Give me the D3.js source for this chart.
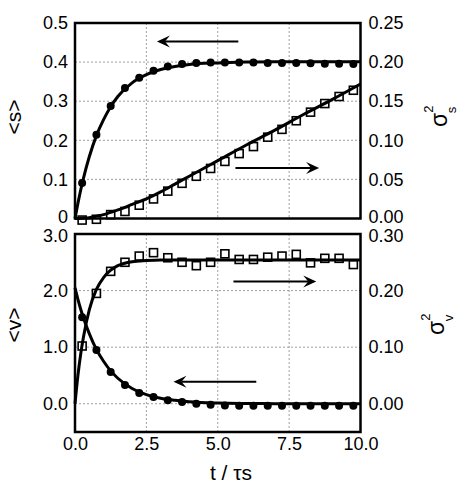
<!DOCTYPE html>
<html><head><meta charset="utf-8">
<script src="https://cdn.jsdelivr.net/npm/d3@7"></script>
<style>
html,body{margin:0;padding:0;background:#fff;}
svg{display:block;font-family:"Liberation Sans",Arial,Helvetica,sans-serif;}
</style></head>
<body><svg id="c" width="464" height="488"></svg>
<script>
// ---- data ----
const tData = [0.25,0.75,1.25,1.75,2.25,2.75,3.25,3.75,4.25,4.75,5.25,5.75,6.25,6.75,7.25,7.75,8.25,8.75,9.25,9.75];
const sMean = [0.091,0.214,0.288,0.334,0.360,0.378,0.389,0.395,0.398,0.399,0.399,0.399,0.399,0.398,0.398,0.398,0.397,0.396,0.396,0.395];
const sVar  = [-0.002,-0.001,0.005,0.009,0.017,0.025,0.035,0.045,0.054,0.064,0.073,0.083,0.092,0.104,0.114,0.125,0.136,0.147,0.156,0.164];
const vMean = [1.53,0.95,0.56,0.33,0.19,0.12,0.06,0.03,0.0,-0.02,-0.03,-0.035,-0.035,-0.035,-0.035,-0.035,-0.035,-0.035,-0.035,-0.035];
const vVar  = [0.102,0.195,0.234,0.250,0.261,0.267,0.258,0.250,0.244,0.250,0.265,0.255,0.255,0.259,0.261,0.264,0.249,0.257,0.257,0.246];

const tFit    = [0,0.1,0.2,0.3,0.5,0.75,1,1.25,1.5,2,2.5,3,3.5,4,5,6,7,8,9,10];
const sMeanFit= [0,0.038,0.073,0.104,0.158,0.212,0.253,0.286,0.312,0.347,0.368,0.381,0.389,0.394,0.398,0.400,0.401,0.401,0.401,0.401];
const sVarFit = [0,0,0.0002,0.0004,0.001,0.003,0.005,0.008,0.011,0.018,0.025,0.034,0.044,0.054,0.074,0.094,0.113,0.133,0.152,0.172];
const vMeanFit= [2.05,1.85,1.67,1.51,1.24,0.96,0.75,0.58,0.45,0.27,0.16,0.095,0.06,0.035,0.012,0.004,0.001,0,0,0];
const vVarFit = [0,0.049,0.088,0.119,0.166,0.202,0.223,0.236,0.244,0.251,0.253,0.254,0.254,0.254,0.254,0.254,0.254,0.254,0.254,0.254];

const xTicks = [0,2.5,5,7.5,10];
const xTickLabels = ["0.0","2.5","5.0","7.5","10.0"];
const sTicks = [0,0.1,0.2,0.3,0.4,0.5];
const sTickLabels = ["0","0.1","0.2","0.3","0.4","0.5"];
const sVarTicks = [0,0.05,0.10,0.15,0.20,0.25];
const sVarTickLabels = ["0.00","0.05","0.10","0.15","0.20","0.25"];
const vTicks = [0,1,2,3];
const vTickLabels = ["0.0","1.0","2.0","3.0"];
const vVarTicks = [0,0.1,0.2,0.3];
const vVarTickLabels = ["0.00","0.10","0.20","0.30"];

// ---- layout ----
const svg = d3.select("#c");
const X0 = 75, X1 = 360.5;
const x = d3.scaleLinear().domain([0,10]).range([X0,X1]);
const pTop = {y0:23, y1:218.5};
const pBot = {y0:234, y1:432};
const yS  = d3.scaleLinear().domain([0,0.5]).range([pTop.y1, pTop.y0]);
const yS2 = d3.scaleLinear().domain([0,0.25]).range([pTop.y1, pTop.y0]);
const yV  = d3.scaleLinear().domain([-0.5,3]).range([pBot.y1, pBot.y0]);
const yV2 = d3.scaleLinear().domain([-0.05,0.3]).range([pBot.y1, pBot.y0]);

const FS = 18;

function grid(yScale, yvals, p){
  const g = svg.append("g").attr("stroke","#888").attr("stroke-width",0.8).attr("stroke-dasharray","2,2");
  xTicks.filter(v=>v>0&&v<10).forEach(v=>{
    g.append("line").attr("x1",x(v)).attr("x2",x(v)).attr("y1",p.y0).attr("y2",p.y1);
  });
  yvals.forEach(v=>{
    g.append("line").attr("x1",X0).attr("x2",X1).attr("y1",yScale(v)).attr("y2",yScale(v));
  });
}
grid(yS,[0.1,0.2,0.3,0.4],pTop);
grid(yV,[0,1,2],pBot);

// edgeShift nudges the labels at the shared edge between panels apart
function axes(yL, tL, lL, yR, tR, lR, edgeVal, edgeShift){
  const gl = svg.append("g").attr("transform",`translate(${X0},0)`)
    .call(d3.axisLeft(yL).tickValues(tL).tickSize(0).tickPadding(7).tickFormat((d,i)=>lL[i]));
  const gr = svg.append("g").attr("transform",`translate(${X1},0)`)
    .call(d3.axisRight(yR).tickValues(tR).tickSize(0).tickPadding(8).tickFormat((d,i)=>lR[i]));
  [gl,gr].forEach((g,k)=>{
    g.select(".domain").remove();
    g.selectAll("text").attr("font-size",FS).attr("fill","#000").attr("font-family","'Liberation Sans',Arial,sans-serif");
  });
  gl.selectAll(".tick").filter(d=>d===edgeVal[0]).select("text").attr("y",edgeShift);
  gr.selectAll(".tick").filter(d=>d===edgeVal[1]).select("text").attr("y",edgeShift);
}
axes(yS,sTicks,sTickLabels,yS2,sVarTicks,sVarTickLabels,[0,0],-1.5);
axes(yV,vTicks,vTickLabels,yV2,vVarTicks,vVarTickLabels,[3,0.3],1.5);

const gx = svg.append("g").attr("transform",`translate(0,${pBot.y1})`)
  .call(d3.axisBottom(x).tickValues(xTicks).tickSize(0).tickPadding(5).tickFormat((d,i)=>xTickLabels[i]));
gx.select(".domain").remove();
gx.selectAll("text").attr("font-size",FS).attr("fill","#000").attr("font-family","'Liberation Sans',Arial,sans-serif");

// markers
function squares(yScale, vals){
  svg.append("g").selectAll("rect").data(vals).join("rect")
    .attr("x",(d,i)=>x(tData[i])-4).attr("y",d=>yScale(d)-4)
    .attr("width",8).attr("height",8)
    .attr("fill","#fff").attr("stroke","#000").attr("stroke-width",1.6);
}
function dots(yScale, vals){
  svg.append("g").selectAll("circle").data(vals).join("circle")
    .attr("cx",(d,i)=>x(tData[i])).attr("cy",d=>yScale(d)).attr("r",4).attr("fill","#000");
}
squares(yS2,sVar); dots(yS,sMean);
squares(yV2,vVar); dots(yV,vMean);

// fitted lines
function curve(yScale, vals){
  const line = d3.line().x((d,i)=>x(tFit[i])).y(d=>yScale(d)).curve(d3.curveMonotoneX);
  svg.append("path").attr("d",line(vals)).attr("fill","none").attr("stroke","#000").attr("stroke-width",3);
}
curve(yS,sMeanFit); curve(yS2,sVarFit);
curve(yV,vMeanFit); curve(yV2,vVarFit);

// frames
[pTop,pBot].forEach(p=>{
  svg.append("rect").attr("x",X0).attr("y",p.y0).attr("width",X1-X0).attr("height",p.y1-p.y0)
    .attr("fill","none").attr("stroke","#000").attr("stroke-width",2.5);
});

// arrows (t-from, t-to, y-value, scale)
function arrow(t0,t1,v,yScale){
  const xa = x(t0), xb = x(t1), y = yScale(v);
  const dir = xb > xa ? 1 : -1;
  svg.append("line").attr("x1",xa).attr("x2",xb - dir*8).attr("y1",y).attr("y2",y)
    .attr("stroke","#000").attr("stroke-width",2);
  svg.append("path").attr("d",`M${xb},${y} L${xb-dir*13},${y-6} L${xb-dir*8},${y} L${xb-dir*13},${y+6} Z`).attr("fill","#000");
}
arrow(5.72,2.87,0.453,yS);
arrow(5.62,8.55,0.129,yS);
arrow(5.55,8.45,2.16,yV);
arrow(6.35,3.45,0.39,yV);

// axis titles
svg.append("text").attr("transform","translate(21,117) rotate(-90)").attr("text-anchor","middle")
  .attr("font-size",21).text("<s>");
svg.append("text").attr("transform","translate(21,325) rotate(-90)").attr("text-anchor","middle")
  .attr("font-size",21).text("<v>");
svg.append("text").attr("x",231).attr("y",480).attr("text-anchor","middle").attr("font-size",21).text("t / τs");

function sigma(cx, cy, sub){
  const g = svg.append("g").attr("transform",`translate(${cx},${cy}) rotate(-90)`);
  g.append("text").attr("x",0).attr("y",7).attr("text-anchor","middle").attr("font-size",23).text("σ");
  g.append("text").attr("x",11).attr("y",-7).attr("text-anchor","middle").attr("font-size",13).text("2");
  g.append("text").attr("x",10).attr("y",16).attr("text-anchor","middle").attr("font-size",13).text(sub);
}
sigma(440,120,"s");
sigma(437,328,"v");
</script></body></html>
